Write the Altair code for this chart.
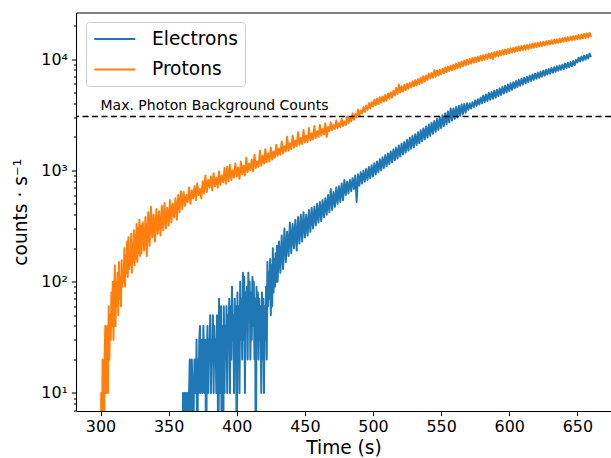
import altair as alt
import pandas as pd

# ---------------- data ----------------
# Protons: 0.5-s samples from 300 s to 329.5 s, then 1-s samples from 330 s to 660 s
proton_fine_start, proton_fine_step = 300, 0.5
proton_fine = [
    0, 10, 0, 20, 10, 0, 20, 40, 10, 20,
    40, 10, 60, 20, 50, 30, 80, 40, 100, 30,
    70, 140, 40, 100, 60, 120, 50, 150, 70, 110,
    60, 156, 90, 130, 100, 200, 90, 170, 120, 230,
    110, 250, 130, 180, 140, 270, 120, 220, 150, 290,
    140, 260, 160, 330, 150, 300, 180, 360, 170, 320,
]
proton_start, proton_step = 330, 1
proton_counts = [
    180, 340, 190, 380, 170, 420, 210, 470, 250, 400,
    230, 450, 270, 430, 260, 480, 290, 510, 300, 460,
    320, 540, 340, 500, 380, 560, 360, 600, 420, 650,
    450, 640, 480, 600, 520, 700, 500, 660, 560, 720,
    540, 760, 600, 680, 560, 800, 620, 900, 640, 820,
    700, 880, 660, 940, 720, 860, 700, 980, 740, 900,
    780, 1050, 760, 1080, 800, 1120, 820, 1000, 860, 1150,
    880, 1060, 840, 1200, 920, 1100, 900, 1300, 960, 1150,
    1000, 1250, 980, 1380, 1050, 1200, 1080, 1500, 1100, 1350,
    1150, 1550, 1180, 1420, 1200, 1600, 1250, 1480, 1300, 1700,
    1350, 1560, 1380, 1820, 1420, 1650, 1480, 2000, 1500, 1750,
    1550, 2050, 1600, 1850, 1650, 2200, 1700, 1950, 1720, 2300,
    1780, 2050, 1800, 2400, 1850, 2150, 1900, 2500, 1950, 2250,
    2000, 2550, 2050, 2350, 2100, 2650, 2000, 2450, 2250, 2700,
    2300, 2550, 2350, 2800, 2400, 2650, 2450, 2900, 2500, 2750,
    2550, 3050, 2650, 3000, 2750, 3250, 2850, 3200, 3000, 3500,
    3100, 3450, 3250, 3700, 3350, 3800, 3500, 4000, 3600, 4100,
    3750, 4300, 3850, 4400, 3950, 4550, 4050, 4600, 4150, 4750,
    4250, 4900, 4400, 5000, 4500, 5200, 4700, 5500, 4850, 5900,
    5000, 5700, 5100, 5850, 5250, 6000, 5400, 6100, 5550, 6300,
    5700, 6450, 5800, 6600, 5950, 6800, 6100, 7000, 6300, 7100,
    6500, 7400, 6700, 7500, 6800, 7950, 6950, 7900, 7100, 8000,
    7300, 8200, 7450, 8400, 7600, 8550, 7800, 8700, 7950, 8900,
    8100, 9100, 8250, 9300, 8400, 9500, 8600, 9700, 8800, 9850,
    8950, 10000, 9100, 10200, 9250, 10350, 9400, 10500, 9550, 10700,
    9700, 10850, 9850, 11000, 10000, 11200, 10150, 11350, 10000, 11500,
    10500, 11700, 10650, 11850, 10800, 12000, 10950, 12150, 11100, 12300,
    11300, 12500, 11450, 12650, 11600, 12800, 11750, 12950, 11900, 13100,
    12050, 13250, 12200, 13400, 12350, 13550, 12500, 13700, 12650, 13850,
    12800, 14000, 12950, 14150, 13100, 14300, 13250, 14450, 13400, 14600,
    13550, 14750, 13700, 14900, 13850, 15050, 14000, 15200, 14150, 15400,
    14300, 15600, 14450, 15750, 14600, 15900, 14750, 16050, 14900, 16200,
    15050, 16400, 15200, 16600, 15350, 16800, 15500, 17000, 15650, 17200,
    15800,
]

# Electrons: 0.5-s samples from 360 s to 429.5 s, then 1-s samples from 430 s to 660 s
electron_fine_start, electron_fine_step = 360, 0.5
electron_fine = [
    0, 10, 0, 10, 10, 0, 10, 0, 10, 0,
    10, 20, 0, 10, 20, 10, 0, 10, 20, 10,
    10, 30, 0, 20, 10, 30, 40, 10, 20, 30,
    10, 40, 20, 10, 30, 0, 20, 40, 10, 30,
    20, 50, 10, 30, 20, 50, 10, 40, 20, 30,
    10, 50, 20, 0, 70, 10, 30, 60, 0, 40,
    0, 60, 10, 40, 20, 60, 10, 50, 30, 70,
    10, 60, 20, 90, 30, 50, 10, 70, 20, 60,
    0, 80, 20, 60, 10, 100, 30, 70, 20, 120,
    30, 110, 10, 80, 40, 90, 20, 120, 50, 100,
    20, 80, 30, 110, 40, 100, 20, 70, 0, 90,
    30, 80, 20, 70, 30, 60, 10, 80, 20, 70,
    10, 60, 30, 90, 20, 150, 60, 120, 70, 160,
    50, 140, 60, 200, 80, 160, 90, 180, 100, 210,
]
electron_start, electron_step = 430, 1
electron_counts = [
    100, 230, 120, 260, 130, 300, 150, 280, 170, 340,
    180, 330, 200, 360, 190, 380, 220, 400, 230, 420,
    250, 400, 260, 440, 280, 460, 300, 470, 320, 500,
    340, 520, 350, 540, 380, 560, 400, 600, 420, 680,
    440, 640, 470, 700, 500, 720, 520, 760, 540, 820,
    600, 790, 620, 820, 650, 850, 680, 900, 520, 920,
    730, 960, 760, 990, 790, 1030, 820, 1070, 850, 1110,
    880, 1160, 920, 1200, 960, 1260, 1000, 1310, 1050, 1370,
    1090, 1420, 1140, 1480, 1180, 1540, 1230, 1600, 1280, 1670,
    1330, 1740, 1390, 1800, 1440, 1880, 1500, 1960, 1560, 2040,
    1620, 2110, 1690, 2200, 1750, 2290, 1830, 2380, 1900, 2480,
    1970, 2580, 2050, 2680, 2130, 2780, 2220, 2900, 2310, 3000,
    2400, 3120, 2500, 3250, 2600, 3380, 2700, 3600, 2800, 3600,
    2900, 3700, 3000, 3800, 3100, 3900, 3200, 3950, 3300, 4000,
    3500, 4000, 3600, 4100, 3700, 4250, 3800, 4350, 3900, 4500,
    4000, 4700, 4100, 4800, 4200, 4950, 4300, 5050, 4400, 5200,
    4500, 5300, 4650, 5450, 4750, 5600, 4900, 5750, 5000, 5900,
    5150, 6050, 5300, 6200, 5450, 6350, 5600, 6500, 5750, 6650,
    5900, 6800, 6050, 6950, 6200, 7100, 6350, 7250, 6500, 7400,
    6650, 7550, 6800, 7700, 6950, 7850, 7100, 8000, 7250, 8150,
    7400, 8300, 7550, 8450, 7700, 8600, 7850, 8750, 8000, 8900,
    8150, 9100, 8300, 9250, 8450, 9400, 8600, 9600, 8800, 9800,
    9300, 10300, 9500, 10500, 9700, 10700, 9900, 10900, 10100, 11200,
    10400,
]

series_names = ["Electrons", "Protons"]
series_colors = ["#1f77b4", "#ff7f0e"]

x_ticks = [300, 350, 400, 450, 500, 550, 600, 650]
y_major = [10, 100, 1000, 10000]
y_minor = [7, 8, 9, 20, 30, 40, 50, 60, 70, 80, 90,
           200, 300, 400, 500, 600, 700, 800, 900,
           2000, 3000, 4000, 5000, 6000, 7000, 8000, 9000, 20000]

background_level = [3050]
annotation_text = ["Max. Photon Background Counts"]
annotation_t = [300]
annotation_y = [3500]

x_domain = [282, 674.7]
y_domain = [6.88, 26200]

# ---------------- tables ----------------
rows = []
segments = [
    ("Electrons", electron_fine_start, electron_fine_step, electron_fine),
    ("Electrons", electron_start, electron_step, electron_counts),
    ("Protons", proton_fine_start, proton_fine_step, proton_fine),
    ("Protons", proton_start, proton_step, proton_counts),
]
for name, start, step, values in segments:
    for i, v in enumerate(values):
        rows.append({"t": start + i * step, "rate": v, "series": name})
df = pd.DataFrame(rows)

rule_df = pd.DataFrame({"y": background_level})
text_df = pd.DataFrame({"t": annotation_t, "y": annotation_y, "label": annotation_text})

FONT = "DejaVu Sans"
xscale = alt.Scale(domain=x_domain, nice=False, zero=False)
yscale = alt.Scale(type="log", domain=y_domain, nice=False)

label_expr = ("datum.value == 10 ? '10\u00b9' : datum.value == 100 ? '10\u00b2' : "
              "datum.value == 1000 ? '10\u00b3' : datum.value == 10000 ? '10\u2074' : ''")
major_test = "datum.value == 10 || datum.value == 100 || datum.value == 1000 || datum.value == 10000"

y_axis = alt.Axis(
    values=sorted(y_major + y_minor),
    labelExpr=label_expr,
    labelOverlap=False,
    tickSize={"condition": {"test": major_test, "value": 4.6}, "value": 2.6},
    labelFontSize=15.9,
    labelPadding=4,
    title="counts \u00b7 s\u207b\u00b9",
    titleFontSize=18.6,
    titleFontWeight="normal",
    titlePadding=10,
    grid=False,
)
x_axis = alt.Axis(
    values=x_ticks,
    tickSize=4.6,
    labelFontSize=15.9,
    labelPadding=3,
    title="Time (s)",
    titleFontSize=18.6,
    titleFontWeight="normal",
    titlePadding=4,
    grid=False,
    labelFlush=False,
)

lines = (
    alt.Chart(df)
    .transform_calculate(y="max(datum.rate, 1)")
    .mark_line(strokeWidth=2, clip=True, strokeJoin="round")
    .encode(
        x=alt.X("t:Q", scale=xscale, axis=x_axis),
        y=alt.Y("y:Q", scale=yscale, axis=y_axis),
        color=alt.Color(
            "series:N",
            scale=alt.Scale(domain=series_names, range=series_colors),
            legend=alt.Legend(
                title=None,
                orient="none",
                legendX=10,
                legendY=9.5,
                labelFontSize=18.6,
                labelFont=FONT,
                symbolType="M-0.97,0H3.59",
                symbolSize=324,
                symbolStrokeWidth=2,
                labelOffset=39,
                padding=7,
                rowPadding=10.4,
                strokeColor="#cccccc",
                fillColor="white",
                cornerRadius=3,
            ),
        ),
    )
)

rule = (
    alt.Chart(rule_df)
    .mark_rule(color="black", strokeDash=[6, 3.5], strokeWidth=1.5)
    .encode(y=alt.Y("y:Q", scale=yscale))
)

text = (
    alt.Chart(text_df)
    .mark_text(align="left", baseline="alphabetic", fontSize=14, font=FONT, color="black")
    .encode(
        x=alt.X("t:Q", scale=xscale,
                axis=alt.Axis(orient="top", labels=False, ticks=False, title=None,
                              domain=True, grid=False)),
        y=alt.Y("y:Q", scale=yscale),
        text="label:N",
    )
)

chart = (
    alt.layer(lines, rule, text)
    .resolve_axis(x="independent")
    .properties(
        width=535,
        height=398.5,
        autosize=alt.AutoSizeParams(type="none"),
        padding={"left": 76, "top": 12.5, "right": 0, "bottom": 47},
    )
    .configure_view(stroke=None)
    .configure_axis(
        domainColor="black",
        domainWidth=1.06,
        tickColor="black",
        tickWidth=1.06,
        labelColor="black",
        titleColor="black",
        labelFont=FONT,
        titleFont=FONT,
    )
    .configure_legend(labelColor="black")
)

chart.save("out.html", embed_options={"renderer": "svg", "actions": False})
